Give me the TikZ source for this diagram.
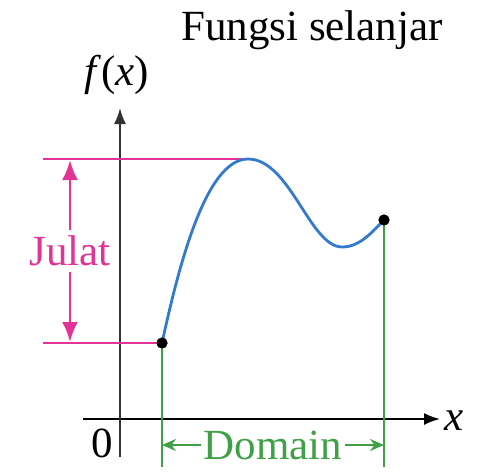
\documentclass[tikz,border=0pt]{standalone}
\usepackage{fontspec}
\setmainfont{Liberation Serif}
\usetikzlibrary{arrows.meta,positioning,calc}
\definecolor{julatpink}{RGB}{226,52,150}
\definecolor{domaingreen}{RGB}{64,160,72}
\definecolor{curveblue}{RGB}{52,122,204}
\tikzset{>={Latex[length=8pt,width=6pt]}}
\tikzset{lbl/.style={font=\fontsize{21.5}{26}\selectfont, inner sep=1pt}}
\tikzset{dot/.style={circle, fill=black, inner sep=0pt, minimum size=5.5pt}}

\begin{document}
\begin{tikzpicture}[x=0.5pt, y=-0.5pt]
  \useasboundingbox (0,0) rectangle (477,472);
  % axes
  \coordinate (xstart) at (83,419);
  \coordinate (xend) at (440,419);
  \coordinate (ystart) at (120,457);
  \coordinate (yend) at (120,108);
  \draw[->, line width=0.9pt] (xstart) -- (xend);
  \draw[->, line width=0.9pt, black!80] (ystart) -- (yend);
  \node[lbl, anchor=west] (xlab) at (442,421) {\textit{x}};
  \node[lbl] (ylab) at (117,75) {\textit{f}(\textit{x})};
  \node[lbl] (origin) at (102,443) {0};
  \node[lbl, anchor=base] (title) at (312,40) {Fungsi selanjar};
  % end points and extrema
  \node[dot] (left) at (162,343) {};
  \node[dot] (right) at (384,220) {};
  \coordinate (peak) at (248,159);
  \coordinate (dip) at (342,247);
  % range
  \draw[julatpink, line width=1.3pt] (43,159) -- (peak);
  \draw[julatpink, line width=1.3pt] (43,343) -- (left.center);
  \draw[julatpink, line width=1.3pt, {Latex[length=10pt,width=8pt]}-{Latex[length=10pt,width=8pt]}]
    (70,160) -- node[lbl, fill=white, text=julatpink, inner sep=3pt] (julat) {Julat} (70,342);
  % domain
  \draw[domaingreen, line width=1pt] (left.center) -- (162,467);
  \draw[domaingreen, line width=1pt] (right.center) -- (384,467);
  \node[lbl, text=domaingreen] (domain) at (273,445) {Domain};
  \draw[domaingreen, line width=1pt, ->, >={Stealth[length=7pt,width=6pt]}] (domain.west) -- (162,445);
  \draw[domaingreen, line width=1pt, ->, >={Stealth[length=7pt,width=6pt]}] (domain.east) -- (384,445);
  % curve
  \draw[curveblue, line width=1.4pt] (left.center) .. controls (178,270) and (205,159) .. (peak)
    .. controls (290,159) and (310,247) .. (dip)
    .. controls (360,247) and (372,232) .. (right.center);
  \node[dot] at (left) {};
  \node[dot] at (right) {};
\end{tikzpicture}
\end{document}
